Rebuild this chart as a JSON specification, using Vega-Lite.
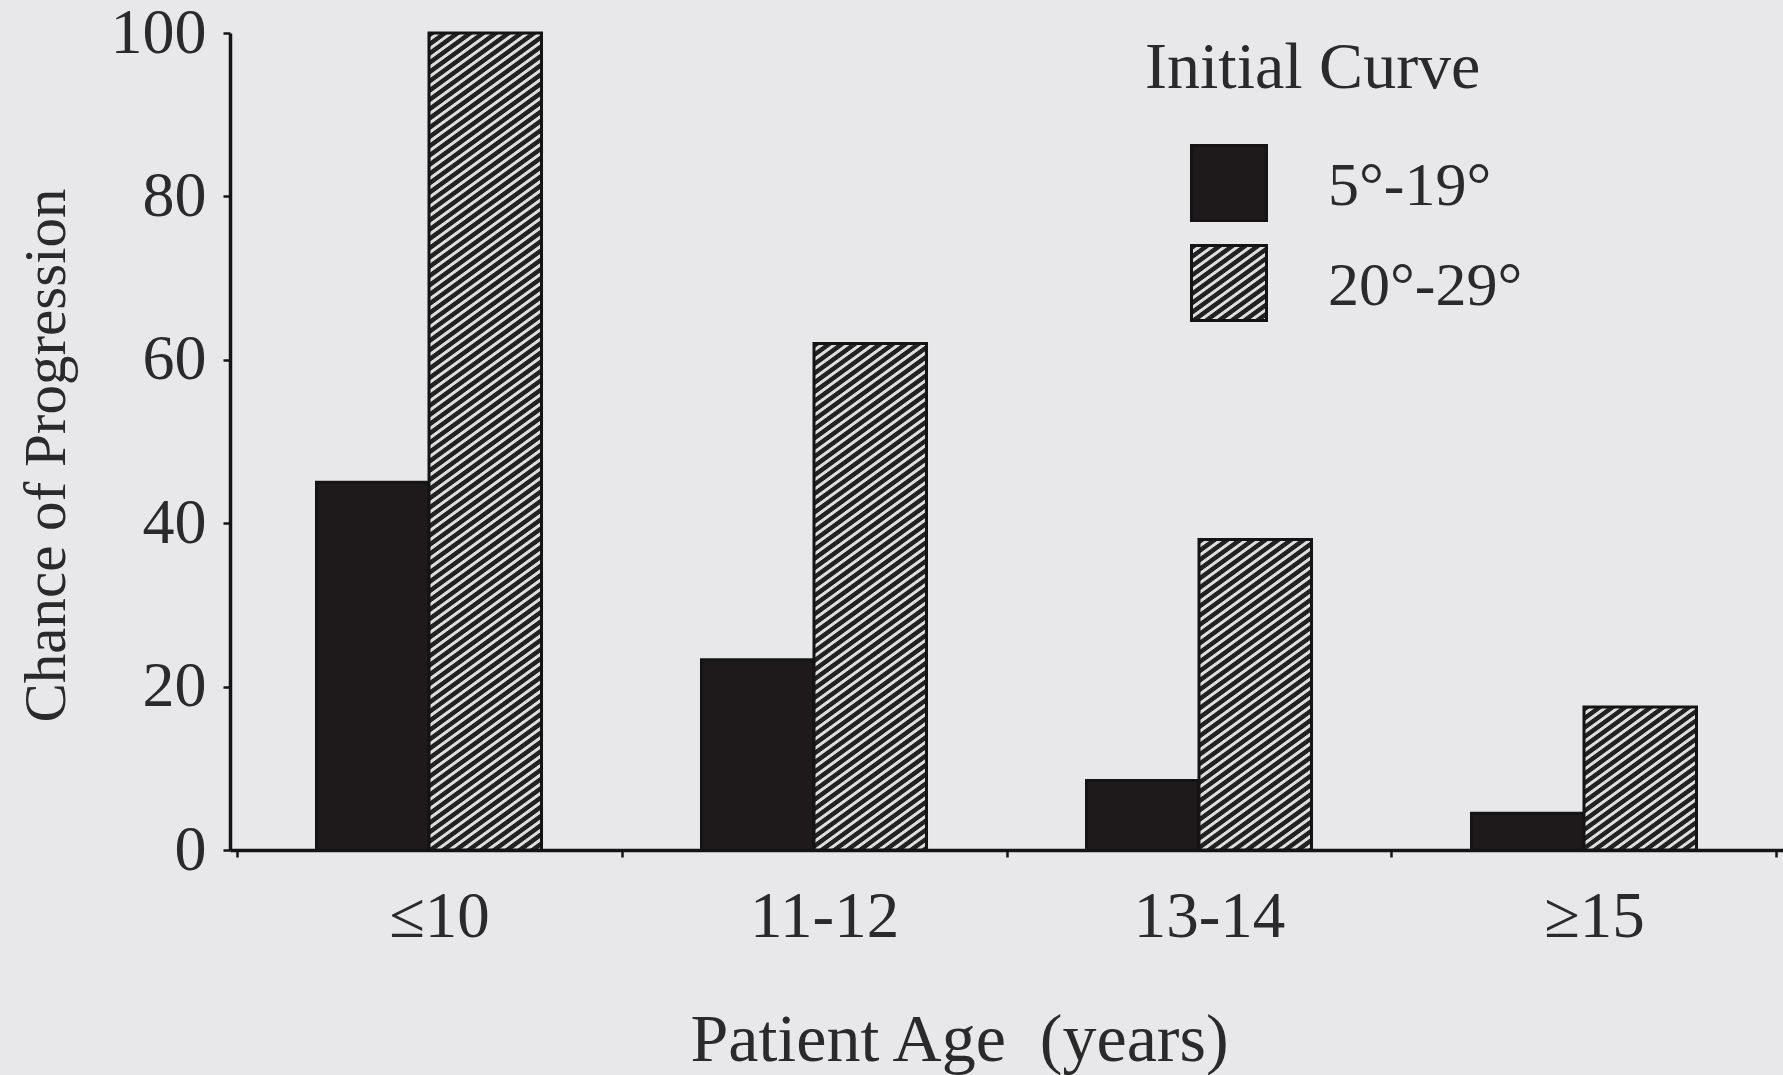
{
  "$schema": "https://vega.github.io/schema/vega-lite/v6.json",
  "autosize": {"type": "none"},
  "padding": {"left": 230, "top": 33, "right": 0, "bottom": 225},
  "width": 1553,
  "height": 817,
  "background": "#e8e8ea",
  "params": [
    {"name": "hs", "value": [
{"offset":0.000,"color":"#222"},{"offset":0.005,"color":"#222"},{"offset":0.006,"color":"#ddd"},{"offset":0.009,"color":"#ddd"},
{"offset":0.010,"color":"#222"},{"offset":0.015,"color":"#222"},{"offset":0.016,"color":"#ddd"},{"offset":0.019,"color":"#ddd"},
{"offset":0.020,"color":"#222"},{"offset":0.025,"color":"#222"},{"offset":0.026,"color":"#ddd"},{"offset":0.029,"color":"#ddd"},
{"offset":0.030,"color":"#222"},{"offset":0.035,"color":"#222"},{"offset":0.036,"color":"#ddd"},{"offset":0.039,"color":"#ddd"},
{"offset":0.040,"color":"#222"},{"offset":0.045,"color":"#222"},{"offset":0.046,"color":"#ddd"},{"offset":0.049,"color":"#ddd"},
{"offset":0.050,"color":"#222"},{"offset":0.055,"color":"#222"},{"offset":0.056,"color":"#ddd"},{"offset":0.059,"color":"#ddd"},
{"offset":0.060,"color":"#222"},{"offset":0.065,"color":"#222"},{"offset":0.066,"color":"#ddd"},{"offset":0.069,"color":"#ddd"},
{"offset":0.070,"color":"#222"},{"offset":0.075,"color":"#222"},{"offset":0.076,"color":"#ddd"},{"offset":0.079,"color":"#ddd"},
{"offset":0.080,"color":"#222"},{"offset":0.085,"color":"#222"},{"offset":0.086,"color":"#ddd"},{"offset":0.089,"color":"#ddd"},
{"offset":0.090,"color":"#222"},{"offset":0.095,"color":"#222"},{"offset":0.096,"color":"#ddd"},{"offset":0.099,"color":"#ddd"},
{"offset":0.100,"color":"#222"},{"offset":0.105,"color":"#222"},{"offset":0.106,"color":"#ddd"},{"offset":0.109,"color":"#ddd"},
{"offset":0.110,"color":"#222"},{"offset":0.115,"color":"#222"},{"offset":0.116,"color":"#ddd"},{"offset":0.119,"color":"#ddd"},
{"offset":0.120,"color":"#222"},{"offset":0.125,"color":"#222"},{"offset":0.126,"color":"#ddd"},{"offset":0.129,"color":"#ddd"},
{"offset":0.130,"color":"#222"},{"offset":0.135,"color":"#222"},{"offset":0.136,"color":"#ddd"},{"offset":0.139,"color":"#ddd"},
{"offset":0.140,"color":"#222"},{"offset":0.145,"color":"#222"},{"offset":0.146,"color":"#ddd"},{"offset":0.149,"color":"#ddd"},
{"offset":0.150,"color":"#222"},{"offset":0.155,"color":"#222"},{"offset":0.156,"color":"#ddd"},{"offset":0.159,"color":"#ddd"},
{"offset":0.160,"color":"#222"},{"offset":0.165,"color":"#222"},{"offset":0.166,"color":"#ddd"},{"offset":0.169,"color":"#ddd"},
{"offset":0.170,"color":"#222"},{"offset":0.175,"color":"#222"},{"offset":0.176,"color":"#ddd"},{"offset":0.179,"color":"#ddd"},
{"offset":0.180,"color":"#222"},{"offset":0.185,"color":"#222"},{"offset":0.186,"color":"#ddd"},{"offset":0.189,"color":"#ddd"},
{"offset":0.190,"color":"#222"},{"offset":0.195,"color":"#222"},{"offset":0.196,"color":"#ddd"},{"offset":0.199,"color":"#ddd"},
{"offset":0.200,"color":"#222"},{"offset":0.205,"color":"#222"},{"offset":0.206,"color":"#ddd"},{"offset":0.209,"color":"#ddd"},
{"offset":0.210,"color":"#222"},{"offset":0.215,"color":"#222"},{"offset":0.216,"color":"#ddd"},{"offset":0.219,"color":"#ddd"},
{"offset":0.220,"color":"#222"},{"offset":0.225,"color":"#222"},{"offset":0.226,"color":"#ddd"},{"offset":0.229,"color":"#ddd"},
{"offset":0.230,"color":"#222"},{"offset":0.235,"color":"#222"},{"offset":0.236,"color":"#ddd"},{"offset":0.239,"color":"#ddd"},
{"offset":0.240,"color":"#222"},{"offset":0.245,"color":"#222"},{"offset":0.246,"color":"#ddd"},{"offset":0.249,"color":"#ddd"},
{"offset":0.250,"color":"#222"},{"offset":0.255,"color":"#222"},{"offset":0.256,"color":"#ddd"},{"offset":0.259,"color":"#ddd"},
{"offset":0.260,"color":"#222"},{"offset":0.265,"color":"#222"},{"offset":0.266,"color":"#ddd"},{"offset":0.269,"color":"#ddd"},
{"offset":0.270,"color":"#222"},{"offset":0.275,"color":"#222"},{"offset":0.276,"color":"#ddd"},{"offset":0.279,"color":"#ddd"},
{"offset":0.280,"color":"#222"},{"offset":0.285,"color":"#222"},{"offset":0.286,"color":"#ddd"},{"offset":0.289,"color":"#ddd"},
{"offset":0.290,"color":"#222"},{"offset":0.295,"color":"#222"},{"offset":0.296,"color":"#ddd"},{"offset":0.299,"color":"#ddd"},
{"offset":0.300,"color":"#222"},{"offset":0.305,"color":"#222"},{"offset":0.306,"color":"#ddd"},{"offset":0.309,"color":"#ddd"},
{"offset":0.310,"color":"#222"},{"offset":0.315,"color":"#222"},{"offset":0.316,"color":"#ddd"},{"offset":0.319,"color":"#ddd"},
{"offset":0.320,"color":"#222"},{"offset":0.325,"color":"#222"},{"offset":0.326,"color":"#ddd"},{"offset":0.329,"color":"#ddd"},
{"offset":0.330,"color":"#222"},{"offset":0.335,"color":"#222"},{"offset":0.336,"color":"#ddd"},{"offset":0.339,"color":"#ddd"},
{"offset":0.340,"color":"#222"},{"offset":0.345,"color":"#222"},{"offset":0.346,"color":"#ddd"},{"offset":0.349,"color":"#ddd"},
{"offset":0.350,"color":"#222"},{"offset":0.355,"color":"#222"},{"offset":0.356,"color":"#ddd"},{"offset":0.359,"color":"#ddd"},
{"offset":0.360,"color":"#222"},{"offset":0.365,"color":"#222"},{"offset":0.366,"color":"#ddd"},{"offset":0.369,"color":"#ddd"},
{"offset":0.370,"color":"#222"},{"offset":0.375,"color":"#222"},{"offset":0.376,"color":"#ddd"},{"offset":0.379,"color":"#ddd"},
{"offset":0.380,"color":"#222"},{"offset":0.385,"color":"#222"},{"offset":0.386,"color":"#ddd"},{"offset":0.389,"color":"#ddd"},
{"offset":0.390,"color":"#222"},{"offset":0.395,"color":"#222"},{"offset":0.396,"color":"#ddd"},{"offset":0.399,"color":"#ddd"},
{"offset":0.400,"color":"#222"},{"offset":0.405,"color":"#222"},{"offset":0.406,"color":"#ddd"},{"offset":0.409,"color":"#ddd"},
{"offset":0.410,"color":"#222"},{"offset":0.415,"color":"#222"},{"offset":0.416,"color":"#ddd"},{"offset":0.419,"color":"#ddd"},
{"offset":0.420,"color":"#222"},{"offset":0.425,"color":"#222"},{"offset":0.426,"color":"#ddd"},{"offset":0.429,"color":"#ddd"},
{"offset":0.430,"color":"#222"},{"offset":0.435,"color":"#222"},{"offset":0.436,"color":"#ddd"},{"offset":0.439,"color":"#ddd"},
{"offset":0.440,"color":"#222"},{"offset":0.445,"color":"#222"},{"offset":0.446,"color":"#ddd"},{"offset":0.449,"color":"#ddd"},
{"offset":0.450,"color":"#222"},{"offset":0.455,"color":"#222"},{"offset":0.456,"color":"#ddd"},{"offset":0.459,"color":"#ddd"},
{"offset":0.460,"color":"#222"},{"offset":0.465,"color":"#222"},{"offset":0.466,"color":"#ddd"},{"offset":0.469,"color":"#ddd"},
{"offset":0.470,"color":"#222"},{"offset":0.475,"color":"#222"},{"offset":0.476,"color":"#ddd"},{"offset":0.479,"color":"#ddd"},
{"offset":0.480,"color":"#222"},{"offset":0.485,"color":"#222"},{"offset":0.486,"color":"#ddd"},{"offset":0.489,"color":"#ddd"},
{"offset":0.490,"color":"#222"},{"offset":0.495,"color":"#222"},{"offset":0.496,"color":"#ddd"},{"offset":0.499,"color":"#ddd"},
{"offset":0.500,"color":"#222"},{"offset":0.505,"color":"#222"},{"offset":0.506,"color":"#ddd"},{"offset":0.509,"color":"#ddd"},
{"offset":0.510,"color":"#222"},{"offset":0.515,"color":"#222"},{"offset":0.516,"color":"#ddd"},{"offset":0.519,"color":"#ddd"},
{"offset":0.520,"color":"#222"},{"offset":0.525,"color":"#222"},{"offset":0.526,"color":"#ddd"},{"offset":0.529,"color":"#ddd"},
{"offset":0.530,"color":"#222"},{"offset":0.535,"color":"#222"},{"offset":0.536,"color":"#ddd"},{"offset":0.539,"color":"#ddd"},
{"offset":0.540,"color":"#222"},{"offset":0.545,"color":"#222"},{"offset":0.546,"color":"#ddd"},{"offset":0.549,"color":"#ddd"},
{"offset":0.550,"color":"#222"},{"offset":0.555,"color":"#222"},{"offset":0.556,"color":"#ddd"},{"offset":0.559,"color":"#ddd"},
{"offset":0.560,"color":"#222"},{"offset":0.565,"color":"#222"},{"offset":0.566,"color":"#ddd"},{"offset":0.569,"color":"#ddd"},
{"offset":0.570,"color":"#222"},{"offset":0.575,"color":"#222"},{"offset":0.576,"color":"#ddd"},{"offset":0.579,"color":"#ddd"},
{"offset":0.580,"color":"#222"},{"offset":0.585,"color":"#222"},{"offset":0.586,"color":"#ddd"},{"offset":0.589,"color":"#ddd"},
{"offset":0.590,"color":"#222"},{"offset":0.595,"color":"#222"},{"offset":0.596,"color":"#ddd"},{"offset":0.599,"color":"#ddd"},
{"offset":0.600,"color":"#222"},{"offset":0.605,"color":"#222"},{"offset":0.606,"color":"#ddd"},{"offset":0.609,"color":"#ddd"},
{"offset":0.610,"color":"#222"},{"offset":0.615,"color":"#222"},{"offset":0.616,"color":"#ddd"},{"offset":0.619,"color":"#ddd"},
{"offset":0.620,"color":"#222"},{"offset":0.625,"color":"#222"},{"offset":0.626,"color":"#ddd"},{"offset":0.629,"color":"#ddd"},
{"offset":0.630,"color":"#222"},{"offset":0.635,"color":"#222"},{"offset":0.636,"color":"#ddd"},{"offset":0.639,"color":"#ddd"},
{"offset":0.640,"color":"#222"},{"offset":0.645,"color":"#222"},{"offset":0.646,"color":"#ddd"},{"offset":0.649,"color":"#ddd"},
{"offset":0.650,"color":"#222"},{"offset":0.655,"color":"#222"},{"offset":0.656,"color":"#ddd"},{"offset":0.659,"color":"#ddd"},
{"offset":0.660,"color":"#222"},{"offset":0.665,"color":"#222"},{"offset":0.666,"color":"#ddd"},{"offset":0.669,"color":"#ddd"},
{"offset":0.670,"color":"#222"},{"offset":0.675,"color":"#222"},{"offset":0.676,"color":"#ddd"},{"offset":0.679,"color":"#ddd"},
{"offset":0.680,"color":"#222"},{"offset":0.685,"color":"#222"},{"offset":0.686,"color":"#ddd"},{"offset":0.689,"color":"#ddd"},
{"offset":0.690,"color":"#222"},{"offset":0.695,"color":"#222"},{"offset":0.696,"color":"#ddd"},{"offset":0.699,"color":"#ddd"},
{"offset":0.700,"color":"#222"},{"offset":0.705,"color":"#222"},{"offset":0.706,"color":"#ddd"},{"offset":0.709,"color":"#ddd"},
{"offset":0.710,"color":"#222"},{"offset":0.715,"color":"#222"},{"offset":0.716,"color":"#ddd"},{"offset":0.719,"color":"#ddd"},
{"offset":0.720,"color":"#222"},{"offset":0.725,"color":"#222"},{"offset":0.726,"color":"#ddd"},{"offset":0.729,"color":"#ddd"},
{"offset":0.730,"color":"#222"},{"offset":0.735,"color":"#222"},{"offset":0.736,"color":"#ddd"},{"offset":0.739,"color":"#ddd"},
{"offset":0.740,"color":"#222"},{"offset":0.745,"color":"#222"},{"offset":0.746,"color":"#ddd"},{"offset":0.749,"color":"#ddd"},
{"offset":0.750,"color":"#222"},{"offset":0.755,"color":"#222"},{"offset":0.756,"color":"#ddd"},{"offset":0.759,"color":"#ddd"},
{"offset":0.760,"color":"#222"},{"offset":0.765,"color":"#222"},{"offset":0.766,"color":"#ddd"},{"offset":0.769,"color":"#ddd"},
{"offset":0.770,"color":"#222"},{"offset":0.775,"color":"#222"},{"offset":0.776,"color":"#ddd"},{"offset":0.779,"color":"#ddd"},
{"offset":0.780,"color":"#222"},{"offset":0.785,"color":"#222"},{"offset":0.786,"color":"#ddd"},{"offset":0.789,"color":"#ddd"},
{"offset":0.790,"color":"#222"},{"offset":0.795,"color":"#222"},{"offset":0.796,"color":"#ddd"},{"offset":0.799,"color":"#ddd"},
{"offset":0.800,"color":"#222"},{"offset":0.805,"color":"#222"},{"offset":0.806,"color":"#ddd"},{"offset":0.809,"color":"#ddd"},
{"offset":0.810,"color":"#222"},{"offset":0.815,"color":"#222"},{"offset":0.816,"color":"#ddd"},{"offset":0.819,"color":"#ddd"},
{"offset":0.820,"color":"#222"},{"offset":0.825,"color":"#222"},{"offset":0.826,"color":"#ddd"},{"offset":0.829,"color":"#ddd"},
{"offset":0.830,"color":"#222"},{"offset":0.835,"color":"#222"},{"offset":0.836,"color":"#ddd"},{"offset":0.839,"color":"#ddd"},
{"offset":0.840,"color":"#222"},{"offset":0.845,"color":"#222"},{"offset":0.846,"color":"#ddd"},{"offset":0.849,"color":"#ddd"},
{"offset":0.850,"color":"#222"},{"offset":0.855,"color":"#222"},{"offset":0.856,"color":"#ddd"},{"offset":0.859,"color":"#ddd"},
{"offset":0.860,"color":"#222"},{"offset":0.865,"color":"#222"},{"offset":0.866,"color":"#ddd"},{"offset":0.869,"color":"#ddd"},
{"offset":0.870,"color":"#222"},{"offset":0.875,"color":"#222"},{"offset":0.876,"color":"#ddd"},{"offset":0.879,"color":"#ddd"},
{"offset":0.880,"color":"#222"},{"offset":0.885,"color":"#222"},{"offset":0.886,"color":"#ddd"},{"offset":0.889,"color":"#ddd"},
{"offset":0.890,"color":"#222"},{"offset":0.895,"color":"#222"},{"offset":0.896,"color":"#ddd"},{"offset":0.899,"color":"#ddd"},
{"offset":0.900,"color":"#222"},{"offset":0.905,"color":"#222"},{"offset":0.906,"color":"#ddd"},{"offset":0.909,"color":"#ddd"},
{"offset":0.910,"color":"#222"},{"offset":0.915,"color":"#222"},{"offset":0.916,"color":"#ddd"},{"offset":0.919,"color":"#ddd"},
{"offset":0.920,"color":"#222"},{"offset":0.925,"color":"#222"},{"offset":0.926,"color":"#ddd"},{"offset":0.929,"color":"#ddd"},
{"offset":0.930,"color":"#222"},{"offset":0.935,"color":"#222"},{"offset":0.936,"color":"#ddd"},{"offset":0.939,"color":"#ddd"},
{"offset":0.940,"color":"#222"},{"offset":0.945,"color":"#222"},{"offset":0.946,"color":"#ddd"},{"offset":0.949,"color":"#ddd"},
{"offset":0.950,"color":"#222"},{"offset":0.955,"color":"#222"},{"offset":0.956,"color":"#ddd"},{"offset":0.959,"color":"#ddd"},
{"offset":0.960,"color":"#222"},{"offset":0.965,"color":"#222"},{"offset":0.966,"color":"#ddd"},{"offset":0.969,"color":"#ddd"},
{"offset":0.970,"color":"#222"},{"offset":0.975,"color":"#222"},{"offset":0.976,"color":"#ddd"},{"offset":0.979,"color":"#ddd"},
{"offset":0.980,"color":"#222"}
    ]}
  ],
  "data": {
    "values": [
      {"age": "≤10", "series": "5°-19°", "value": 45},
      {"age": "≤10", "series": "20°-29°", "value": 100},
      {"age": "11-12", "series": "5°-19°", "value": 23.3},
      {"age": "11-12", "series": "20°-29°", "value": 62},
      {"age": "13-14", "series": "5°-19°", "value": 8.5},
      {"age": "13-14", "series": "20°-29°", "value": 38},
      {"age": "≥15", "series": "5°-19°", "value": 4.5},
      {"age": "≥15", "series": "20°-29°", "value": 17.5}
    ]
  },
  "mark": {"type": "bar", "stroke": "#141414", "strokeWidth": 3},
  "encoding": {
    "x": {
      "field": "age", "type": "nominal", "sort": ["≤10", "11-12", "13-14", "≥15"],
      "scale": {"paddingInner": 0, "paddingOuter": 0.0169},
      "axis": {
        "title": "Patient Age\u00a0 (years)", "titleFontSize": 68, "titleX": 729, "titleY": 190,
        "titleBaseline": "middle", "titleAlign": "center",
        "labelAngle": 0, "labelFontSize": 65, "labelBaseline": "middle", "labelPadding": 59, "labelOffset": 10,
        "tickBand": "extent", "tickSize": 7, "tickWidth": 2.5
      }
    },
    "xOffset": {
      "field": "series", "type": "nominal", "sort": ["5°-19°", "20°-29°"],
      "scale": {"paddingInner": 0, "paddingOuter": 0.711}
    },
    "y": {
      "field": "value", "type": "quantitative", "stack": null,
      "scale": {"domain": [0, 100], "nice": false},
      "axis": {
        "title": "Chance of Progression", "titleFontSize": 59, "titleX": -184, "titleY": 422,
        "titleBaseline": "middle", "titleAlign": "center",
        "values": [0, 20, 40, 60, 80, 100], "labelFontSize": 64, "labelPadding": 17,
        "tickSize": 7, "tickWidth": 2.5, "grid": false
      }
    },
    "fill": {
      "field": "series", "type": "nominal", "sort": ["5°-19°", "20°-29°"],
      "scale": {"domain": ["5°-19°", "20°-29°"], "range": ["#1e1a1b", {"expr": "{gradient: 'linear', x1: 0, y1: 0, x2: 5.879, y2: 8.088, stops: hs}"}]},
      "condition": {
        "test": "datum.series === '20°-29°'",
        "value": {"expr": "{gradient: 'linear', x1: 0, y1: 0, x2: (0.000784*bandwidth('xOffset'))/(pow(0.000784*bandwidth('xOffset'),2)+pow(0.0010787*(scale('y',0)-scale('y',datum.value)),2)), y2: (0.0010787*(scale('y',0)-scale('y',datum.value)))/(pow(0.000784*bandwidth('xOffset'),2)+pow(0.0010787*(scale('y',0)-scale('y',datum.value)),2)), stops: hs}"}
      },
      "legend": {
        "title": "Initial Curve", "orient": "none", "legendX": 915, "legendY": 3, "padding": 0,
        "titleFontSize": 66, "titleFontWeight": "normal", "titlePadding": 42, "titleLimit": 0,
        "labelFontSize": 62, "labelOffset": 60, "labelLimit": 0,
        "symbolType": "square", "symbolSize": 5625, "symbolStrokeColor": "#141414", "symbolStrokeWidth": 3,
        "symbolOpacity": 1, "rowPadding": 12,
        "encode": {
          "title": {"update": {"dx": {"value": -45}}},
          "labels": {"update": {"dy": {"value": 3}}}
        }
      }
    }
  },
  "config": {
    "view": {"stroke": null},
    "font": "Liberation Serif",
    "axis": {
      "domainColor": "#141414", "domainWidth": 3.5, "tickColor": "#141414",
      "labelColor": "#2a2a2a", "titleColor": "#2a2a2a", "titleFontWeight": "normal",
      "labelFont": "Liberation Serif", "titleFont": "Liberation Serif"
    },
    "legend": {"labelColor": "#2a2a2a", "titleColor": "#2a2a2a", "labelFont": "Liberation Serif", "titleFont": "Liberation Serif"}
  }
}
